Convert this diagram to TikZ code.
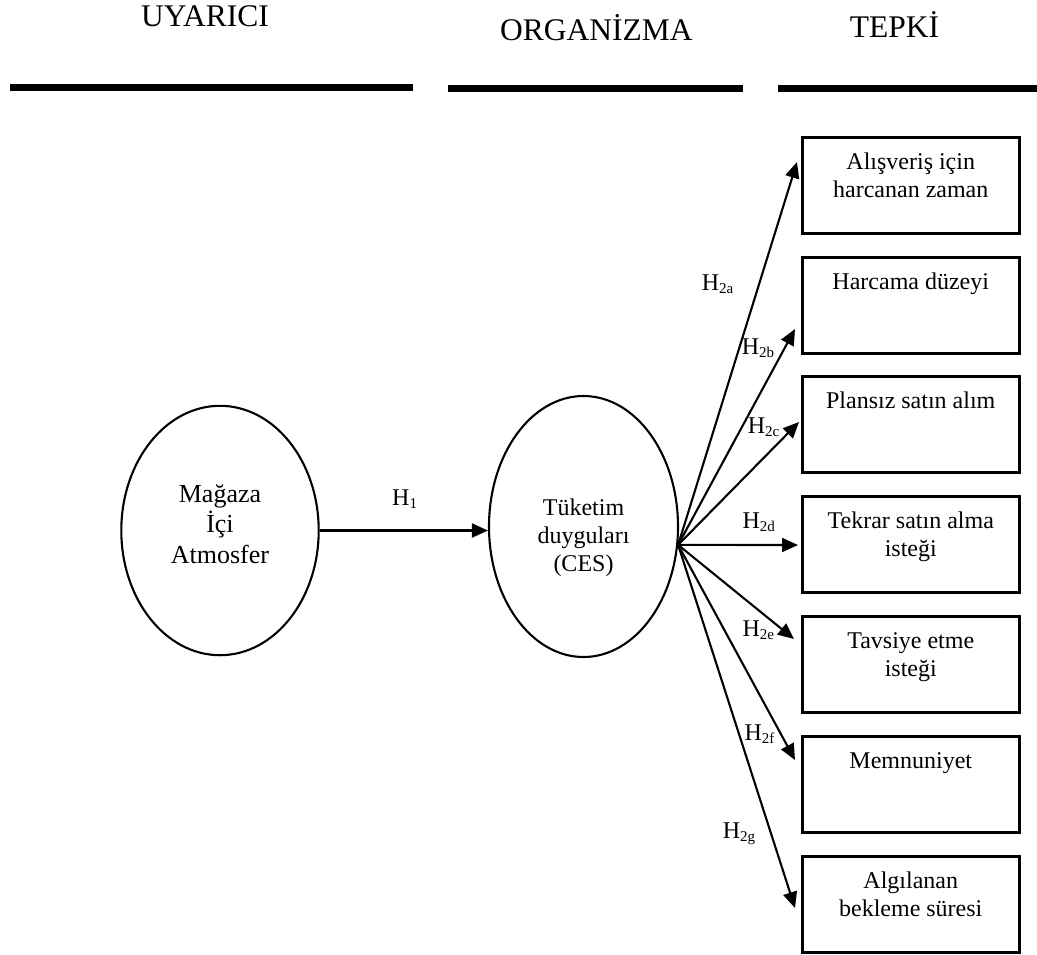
\documentclass[tikz,border=0pt]{standalone}
\usepackage{fontspec}
\setmainfont{Liberation Serif}
\usetikzlibrary{shapes.geometric,arrows.meta,calc}

% subscript used in the hypothesis labels
\newcommand\hyp[1]{H\raisebox{-3pt}{\fontsize{15}{15}\selectfont #1}}
% text block inside a response box: first baseline 32pt below the top edge
\newcommand\boxtext[1]{\parbox[c][96pt][t]{217pt}{\centering\rule{0pt}{32pt}#1}}

\begin{document}
\begin{tikzpicture}[x=1pt,y=-1pt,
  title/.style={font=\fontsize{31.5}{36}\selectfont, anchor=base, inner sep=0},
  bar/.style={line width=6.6pt},
  oval/.style={draw, ellipse, line width=2.1pt, inner sep=0},
  ovaltext/.style={align=center, inner sep=0},
  resp/.style={draw, line width=2.5pt, anchor=north west, inner sep=0,
    font=\fontsize{24}{28.5}\selectfont},
  conn/.style={line width=2.1pt, -{Triangle[length=16pt,width=14pt]}},
  lab/.style={font=\fontsize{24}{28}\selectfont, anchor=base west, inner sep=0}]

\useasboundingbox (0,0) rectangle (1037,954);

% column headings and rules
\node[title] (hu) at (205,26.7) {UYARICI};
\node[title] (ho) at (596.3,40) {ORGANİZMA};
\node[title] (ht) at (894.5,37.3) {TEPKİ};
\draw[bar] (10,87.5) -- (413,87.5);
\draw[bar] (448.3,88.3) -- (742.7,88.3);
\draw[bar] (778.3,88.3) -- (1037,88.3);

% stimulus and organism
\node[oval, minimum width=197.4pt, minimum height=249.4pt] (e1) at (220,530.5) {};
\node[ovaltext, font=\fontsize{26}{30.6}\selectfont] (t1) at (220,526.6)
  {\rule{0pt}{20pt}Mağaza\\İçi\\Atmosfer\rule[-8pt]{0pt}{8pt}};
\node[oval, minimum width=189pt, minimum height=261pt] (e2) at (583.5,526.5) {};
\node[ovaltext, font=\fontsize{24}{27.7}\selectfont] (t2) at (583.5,537.4)
  {\rule{0pt}{20pt}Tüketim\\duyguları\\(CES)\rule[-8pt]{0pt}{8pt}};

% responses
\node[resp] (r1) at (801,136) {\boxtext{Alışveriş için\\harcanan zaman}};
\node[resp] (r2) at (801,256) {\boxtext{Harcama düzeyi}};
\node[resp] (r3) at (801,375) {\boxtext{Plansız satın alım}};
\node[resp] (r4) at (801,495) {\boxtext{Tekrar satın alma\\isteği}};
\node[resp] (r5) at (801,615) {\boxtext{Tavsiye etme\\isteği}};
\node[resp] (r6) at (801,735) {\boxtext{Memnuniyet}};
\node[resp] (r7) at (801,855) {\boxtext{Algılanan\\bekleme süresi}};

% paths
\coordinate (src) at (e2.-11.4);
\draw[conn] (e1.east) -- (e2.west |- e1.east);
\draw[conn] (src) -- ($(r1.north west)+(-4,26)$);
\draw[conn] (src) -- ($(r2.north west)+(-6,73)$);
\draw[conn] (src) -- ($(r3.north west)+(-2,47)$);
\draw[conn] (src) -- ($(r4.north west)+(-3,50)$);
\draw[conn] (src) -- ($(r5.north west)+(-7,24)$);
\draw[conn] (src) -- ($(r6.north west)+(-6,25)$);
\draw[conn] (src) -- ($(r7.north west)+(-6,53)$);

% hypothesis labels
\node[lab] (h1) at (392,505) {\hyp{1}};
\node[lab] (h2a) at (701.7,290) {\hyp{2a}};
\node[lab] (h2b) at (741.7,354) {\hyp{2b}};
\node[lab] (h2c) at (747.7,433) {\hyp{2c}};
\node[lab] (h2d) at (742.3,528) {\hyp{2d}};
\node[lab] (h2e) at (742.3,636.7) {\hyp{2e}};
\node[lab] (h2f) at (744.3,740) {\hyp{2f}};
\node[lab] (h2g) at (722.7,838) {\hyp{2g}};
\end{tikzpicture}
\end{document}
